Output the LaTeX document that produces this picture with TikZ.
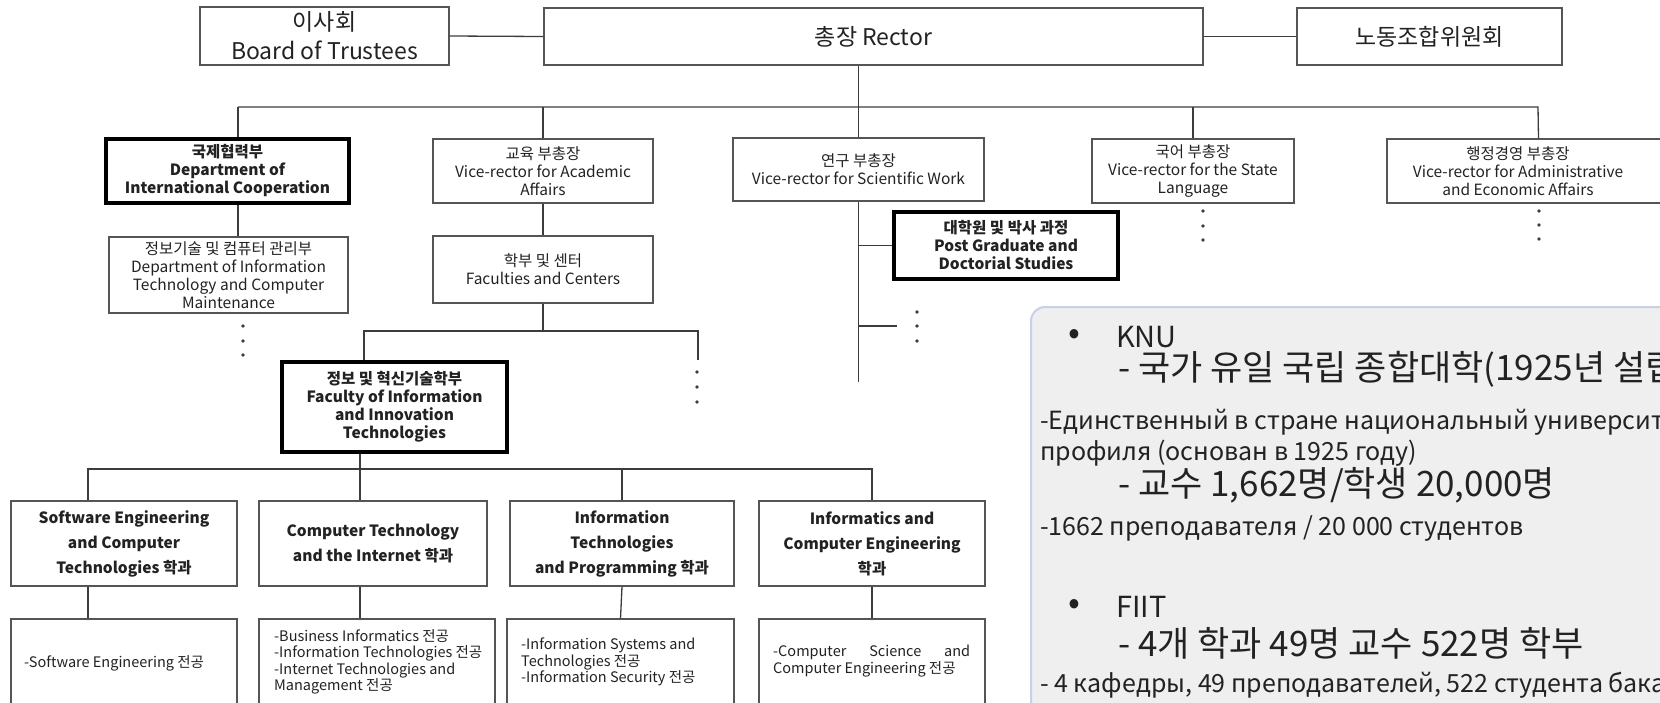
\documentclass[tikz,border=0pt]{standalone}
\usepackage{fontspec}
\setmainfont{Noto Sans CJK KR}

\definecolor{linegray}{HTML}{3C3C3C}
\definecolor{boxgray}{HTML}{555555}
\definecolor{inkgray}{HTML}{222222}
\definecolor{panelfill}{HTML}{EFEFEF}
\definecolor{panelrim}{HTML}{C8CFE6}

\newcommand\topfont{\fontsize{23}{29}\selectfont}
\newcommand\vrfont{\fontsize{15.5}{18}\selectfont}
\newcommand\deptfont{\fontsize{15.5}{25}\selectfont\bfseries}
\newcommand\specfont{\fontsize{14.5}{16.5}\selectfont}
\newcommand\bigfont{\fontsize{35}{40}\selectfont}
\newcommand\rufont{\fontsize{25}{30}\selectfont}

\tikzset{
  box/.style={draw=boxgray, line width=1.4pt, fill=white, align=center, text=inkgray, inner sep=2pt},
  heavybox/.style={box, draw=black, line width=4pt, font=\vrfont\bfseries},
  conn/.style={draw=linegray, line width=1.3pt},
  paneltext/.style={anchor=west, inner sep=0pt, text=inkgray},
}

\begin{document}
\begin{tikzpicture}[x=1pt, y=-1pt]
  \useasboundingbox (0,0) rectangle (1660,702);
  \clip (0,0) rectangle (1660,702);
  \fill[white] (0,0) rectangle (1660,702);

  \node[box, font=\topfont, minimum width=249, minimum height=58] (board) at (324.5,36) {이사회\\Board of Trustees};
  \node[box, font=\topfont, minimum width=659, minimum height=57] (rector) at (873.5,36.5) {총장 Rector};
  \node[box, font=\topfont, minimum width=265, minimum height=57] (union) at (1429.5,36.5) {노동조합위원회};

  \node[heavybox, minimum width=243, minimum height=64] (intl) at (227.5,171) {국제협력부\\Department of\\International Cooperation};
  \node[box, font=\vrfont, minimum width=220, minimum height=64] (acad) at (543,171) {교육 부총장\\Vice-rector for Academic\\Affairs};
  \node[box, font=\vrfont, minimum width=251, minimum height=63] (sci) at (858.5,169.5) {연구 부총장\\Vice-rector for Scientific Work};
  \node[box, font=\vrfont, minimum width=202, minimum height=64] (lang) at (1193,171) {국어 부총장\\Vice-rector for the State\\Language};
  \node[box, minimum width=303, minimum height=64] (admin) at (1538.5,171) {};
  \node[font=\vrfont, align=center, text=inkgray] (admintxt) at (1518,171) {행정경영 부총장\\Vice-rector for Administrative\\and Economic Affairs};

  \node[box, font=\vrfont, minimum width=239, minimum height=76] (itdept) at (228.5,275) {정보기술 및 컴퓨터 관리부\\Department of Information\\Technology and Computer\\Maintenance};
  \node[box, font=\vrfont, minimum width=220, minimum height=67] (fac) at (543,269.5) {학부 및 센터\\Faculties and Centers};
  \node[heavybox, minimum width=224, minimum height=67] (post) at (1006,245.5) {대학원 및 박사 과정\\Post Graduate and\\Doctorial Studies};
  \node[heavybox, minimum width=225, minimum height=90] (fiit) at (394.5,407) {정보 및 혁신기술학부\\Faculty of Information\\and Innovation\\Technologies};

  \node[box, font=\deptfont, minimum width=226, minimum height=85] (sw) at (124,543.5) {Software Engineering\\and Computer\\Technologies 학과};
  \node[box, font=\deptfont, minimum width=228, minimum height=85] (ct) at (373,543.5) {Computer Technology\\and the Internet 학과};
  \node[box, font=\deptfont, minimum width=224, minimum height=85] (itp) at (622,543.5) {Information\\Technologies\\and Programming 학과};
  \node[box, font=\deptfont, minimum width=226, minimum height=85] (ice) at (872,543.5) {Informatics and\\Computer Engineering\\학과};

  \node[box, minimum width=226, minimum height=101] (sw2) at (124,669.5) {};
  \node[box, minimum width=236, minimum height=101] (ct2) at (377,669.5) {};
  \node[box, minimum width=227, minimum height=101] (itp2) at (620.5,669.5) {};
  \node[box, minimum width=226, minimum height=101] (ice2) at (872,669.5) {};
  \node[paneltext, font=\specfont] (swtxt) at (24,663) {-Software Engineering 전공};
  \node[paneltext, font=\specfont, align=left] (cttxt) at (274,662) {-Business Informatics 전공\\-Information Technologies 전공\\-Internet Technologies and\\Management 전공};
  \node[paneltext, font=\specfont, align=left] (itptxt) at (521,662) {-Information Systems and\\Technologies 전공\\-Information Security 전공};
  \node[paneltext, font=\specfont, align=left] (icetxt) at (773,661) {\makebox[197pt][s]{-Computer Science and}\\Computer Engineering 전공};

  \coordinate (busL) at (238,107);
  \coordinate (busR) at (1538,107);
  \coordinate (facbusL) at (364,331);
  \coordinate (facend) at (698,360);
  \coordinate (sciend) at (858.5,382);
  \coordinate (scidots) at (897,326);
  \coordinate (fiitdrop) at (360,469);
  \coordinate (dbusL) at (88,469);

  \draw[conn] (board.east) -- (rector.west);
  \draw[conn] (rector.east) -- (union.west);
  \draw[conn] (sci.north |- rector.south) -- (sci.north);
  \draw[conn] (busL) -- (busR) -- (admin.north);
  \draw[conn] (busL) -- (busL |- intl.north);
  \draw[conn] (acad.north |- busL) -- (acad.north);
  \draw[conn] (lang.north |- busL) -- (lang.north);

  \draw[conn] (busL |- intl.south) -- (busL |- itdept.north);
  \draw[conn] (acad.south) -- (fac.north);
  \draw[conn] (fac.south) -- (fac.south |- facbusL);
  \draw[conn] (facbusL |- fiit.north) -- (facbusL) -| (facend);

  \draw[conn] (sci.south) -- (sciend);
  \draw[conn] (sci.south |- post.west) -- (post.west);
  \draw[conn] (sci.south |- scidots) -- (scidots);

  \draw[conn] (fiitdrop |- fiit.south) -- (fiitdrop);
  \draw[conn] (dbusL |- sw.north) -- (dbusL) -- (fiitdrop) -| (ice.north);
  \draw[conn] (fiitdrop) -- (fiitdrop |- ct.north);
  \draw[conn] (itp.north |- fiitdrop) -- (itp.north);
  \draw[conn] (dbusL |- sw.south) -- (dbusL |- sw2.north);
  \draw[conn] (fiitdrop |- ct.south) -- (fiitdrop |- ct2.north);
  \draw[conn] (itp.south) -- (itp2.north);
  \draw[conn] (ice.south) -- (ice2.north);

  \foreach \y in {211,226,240} \fill[linegray] (1203,\y) circle (1.8pt);
  \foreach \y in {211,225,239} \fill[linegray] (1539,\y) circle (1.8pt);
  \foreach \y in {326,341,355} \fill[linegray] (243,\y) circle (1.8pt);
  \foreach \y in {372,387,402} \fill[linegray] (697,\y) circle (1.8pt);
  \foreach \y in {312,326,341} \fill[linegray] (917,\y) circle (1.8pt);

  \draw[panelrim, fill=panelfill, line width=2pt, rounded corners=14pt] (1031,307) rectangle (1720,760);
  \node[text=inkgray, font=\bigfont] (dot1) at (1074,337) {•};
  \node[paneltext, font=\fontsize{29}{32}\selectfont] (knu) at (1116,337) {KNU};
  \node[paneltext, font=\bigfont] (knu1) at (1118,369) {- 국가 유일 국립 종합대학(1925년 설립)};
  \node[paneltext, font=\rufont] (knu2) at (1040,422) {-Единственный в стране национальный университет};
  \node[paneltext, font=\rufont] (knu3) at (1040,453) {профиля (основан в 1925 году)};
  \node[paneltext, font=\bigfont] (knu4) at (1118,485) {- 교수 1,662명/학생 20,000명};
  \node[paneltext, font=\rufont] (knu5) at (1040,528) {-1662 преподавателя / 20 000 студентов};
  \node[text=inkgray, font=\bigfont] (dot2) at (1074,607) {•};
  \node[paneltext, font=\fontsize{29}{32}\selectfont] (fiitlbl) at (1116,607) {FIIT};
  \node[paneltext, font=\bigfont] (fiit1) at (1118,643) {- 4개 학과 49명 교수 522명 학부};
  \node[paneltext, font=\rufont] (fiit2) at (1040,685) {- 4 кафедры, 49 преподавателей, 522 студента бакалавриата};
\end{tikzpicture}
\end{document}
